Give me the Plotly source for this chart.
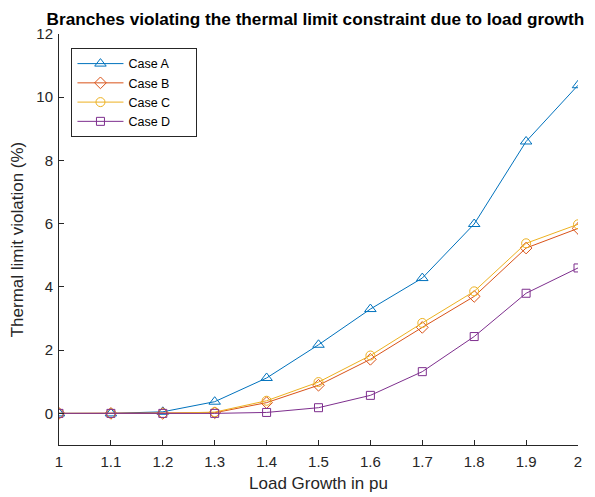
import plotly.graph_objects as go

load_growth = [1.0, 1.1, 1.2, 1.3, 1.4, 1.5, 1.6, 1.7, 1.8, 1.9, 2.0]
case_a = [0.0, 0.0, 0.05, 0.37, 1.12, 2.17, 3.30, 4.28, 5.99, 8.60, 10.38]
case_b = [0.0, 0.0, 0.0, 0.02, 0.34, 0.89, 1.71, 2.72, 3.70, 5.23, 5.85]
case_c = [0.0, 0.0, 0.0, 0.04, 0.40, 0.99, 1.83, 2.86, 3.86, 5.38, 5.98]
case_d = [0.0, 0.0, 0.0, 0.0, 0.03, 0.18, 0.57, 1.32, 2.43, 3.80, 4.60]

x_ticks = [1.0, 1.1, 1.2, 1.3, 1.4, 1.5, 1.6, 1.7, 1.8, 1.9, 2.0]
x_ticklabels = ["1", "1.1", "1.2", "1.3", "1.4", "1.5", "1.6", "1.7", "1.8", "1.9", "2"]
y_ticks = [0, 2, 4, 6, 8, 10, 12]

series = [
    ("Case A", case_a, "#0072BD", "triangle-up-open", 10),
    ("Case B", case_b, "#D95319", "diamond-open", 9),
    ("Case C", case_c, "#EDB120", "circle-open", 9),
    ("Case D", case_d, "#7E2F8E", "square-open", 8),
]

pad = "\u00a0" * 6

fig = go.Figure()
for name, vals, color, sym, msize in series:
    fig.add_trace(go.Scatter(
        x=load_growth, y=vals, name=name + pad, mode="lines+markers",
        line=dict(color=color, width=1),
        marker=dict(symbol=sym, size=msize, color=color, line=dict(color=color, width=1)),
    ))

font_family = "Liberation Sans, Arial, sans-serif"
fig.update_layout(
    width=595, height=497,
    margin=dict(l=58.5, r=16.5, t=34, b=52),
    paper_bgcolor="white", plot_bgcolor="white",
    font=dict(family=font_family, size=15, color="#262626"),
    title=dict(text="<b>Branches violating the thermal limit constraint due to load growth</b>",
               xref="paper", x=0.494, xanchor="center", y=0.961, yanchor="middle",
               font=dict(size=17.2, color="black")),
    showlegend=True,
    legend=dict(x=0.024, y=0.966, xanchor="left", yanchor="top",
                bgcolor="white", bordercolor="#262626", borderwidth=1,
                font=dict(size=12.5, color="black"), tracegroupgap=0,
                itemwidth=46),
)
fig.update_xaxes(
    range=[1, 2], tickvals=x_ticks, ticktext=x_ticklabels,
    showgrid=False, zeroline=False, showline=True, linecolor="#262626", linewidth=1,
    ticks="inside", ticklen=5, tickcolor="#262626", ticklabelstandoff=3,
    automargin=False,
    title=dict(text="Load Growth in pu", font=dict(size=17), standoff=8),
)
fig.update_yaxes(
    range=[-1, 12], tickvals=y_ticks,
    showgrid=False, zeroline=False, showline=True, linecolor="#262626", linewidth=1,
    ticks="inside", ticklen=5, tickcolor="#262626", ticklabelstandoff=2,
    automargin=False,
    title=dict(text="Thermal limit violation (%)", font=dict(size=17), standoff=8),
)
fig.write_html("out.html", config={"displayModeBar": False},
               post_script="document.body.style.margin='0';")
